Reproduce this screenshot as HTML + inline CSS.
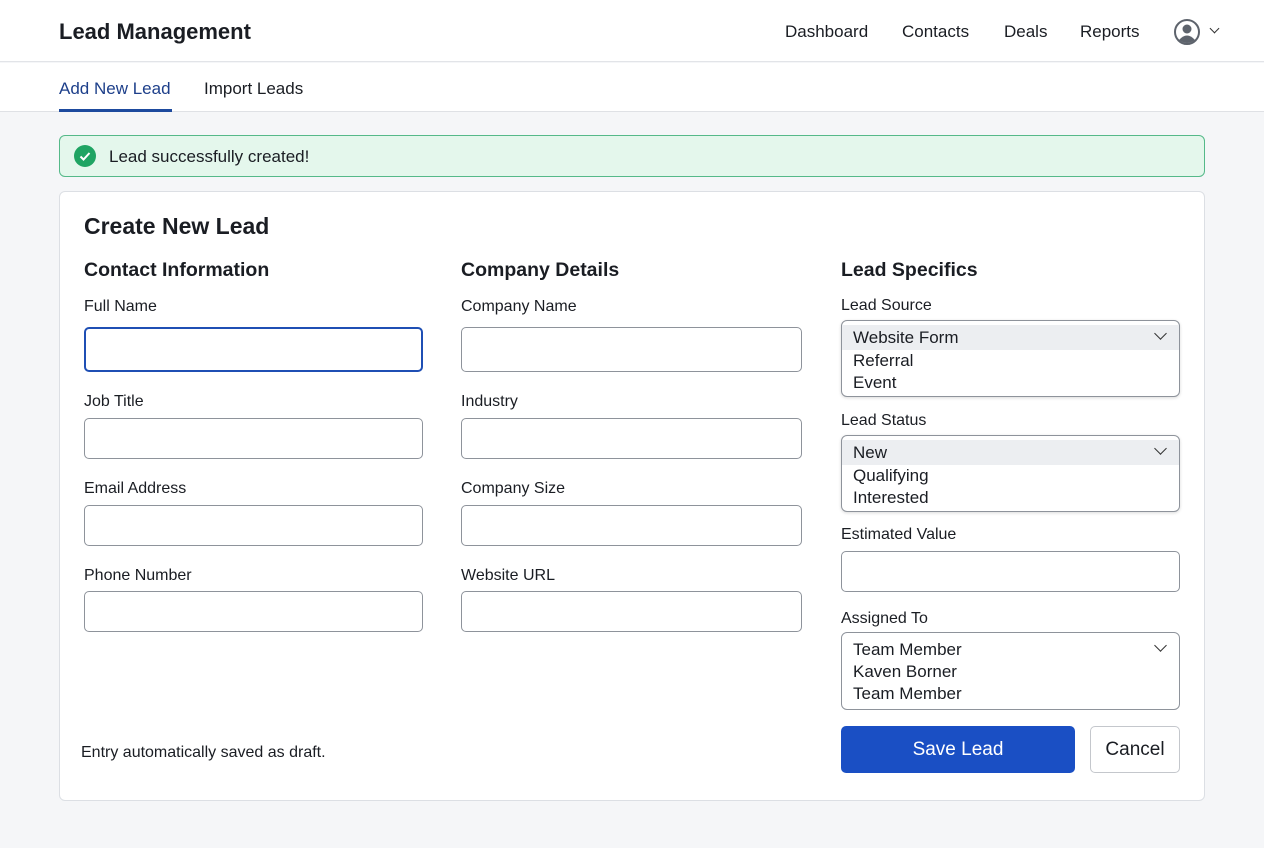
<!DOCTYPE html>
<html><head><style>
*{box-sizing:border-box;margin:0;padding:0}
body{width:1264px;height:848px;background:#f5f6f8;font-family:"Liberation Sans",sans-serif;color:#1a1d23;position:relative;overflow:hidden}
.a{position:absolute;white-space:nowrap}
.lbl{font-size:16px;line-height:20px}
.in{position:absolute;background:#fff;border:1px solid #8e939b;border-radius:5px}
.h2{font-size:19.5px;font-weight:bold;line-height:24px}
.sel{position:absolute;background:#fff;border:1px solid #8e939b;border-radius:6px;box-shadow:0 1px 3px rgba(0,0,0,.15);overflow:hidden;font-size:17px}
.sel div{height:22px;line-height:22px;padding-left:11px}
.chev{position:absolute;right:14px;top:8px;width:9px;height:9px;border-right:1.6px solid #333;border-bottom:1.6px solid #333;transform:rotate(45deg)}
</style></head><body>
<div class="a" style="left:0;top:0;width:1264px;height:62px;background:#fff;border-bottom:1px solid #e2e4e8"></div>
<div class="a" style="left:59px;top:18px;font-size:22px;font-weight:bold;line-height:28px">Lead Management</div>
<div class="a" style="left:785px;top:21px;font-size:17px;line-height:22px">Dashboard</div>
<div class="a" style="left:902px;top:21px;font-size:17px;line-height:22px">Contacts</div>
<div class="a" style="left:1004px;top:21px;font-size:17px;line-height:22px">Deals</div>
<div class="a" style="left:1080px;top:21px;font-size:17px;line-height:22px">Reports</div>
<svg class="a" style="left:1173px;top:18px" width="28" height="28" viewBox="0 0 28 28"><circle cx="14" cy="14" r="12" fill="none" stroke="#5d636c" stroke-width="2"/><circle cx="14" cy="11" r="4.5" fill="#5d636c"/><path d="M6 22 Q14 13 22 22 Q14 28 6 22Z" fill="#5d636c"/></svg>
<div class="a" style="left:1211px;top:25px;width:7px;height:7px;border-right:1.5px solid #333;border-bottom:1.5px solid #333;transform:rotate(45deg)"></div>
<div class="a" style="left:0;top:63px;width:1264px;height:49px;background:#fff;border-bottom:1px solid #dfe1e5"></div>
<div class="a" style="left:59px;top:78px;font-size:17px;line-height:22px;color:#1d3f8a">Add New Lead</div>
<div class="a" style="left:59px;top:109px;width:113px;height:3px;background:#1d4a9e"></div>
<div class="a" style="left:204px;top:78px;font-size:17px;line-height:22px">Import Leads</div>
<div class="a" style="left:59px;top:135px;width:1146px;height:42px;background:#e4f7ec;border:1px solid #55b989;border-radius:6px"></div>
<svg class="a" style="left:74px;top:145px" width="22" height="22"><circle cx="11" cy="11" r="11" fill="#1fa463"/><path d="M6.5 11.5l3 3 6-6.5" stroke="#fff" stroke-width="2" fill="none"/></svg>
<div class="a" style="left:109px;top:146px;font-size:17px;line-height:21px">Lead successfully created!</div>
<div class="a" style="left:59px;top:191px;width:1146px;height:610px;background:#fff;border:1px solid #dcdfe4;border-radius:6px"></div>
<div class="a" style="left:84px;top:211px;font-size:23px;font-weight:bold;line-height:30px">Create New Lead</div>
<div class="a h2" style="left:84px;top:258px">Contact Information</div>
<div class="a h2" style="left:461px;top:258px">Company Details</div>
<div class="a h2" style="left:841px;top:258px">Lead Specifics</div>

<div class="a lbl" style="left:84px;top:297px">Full Name</div>
<div class="in" style="left:84px;top:327px;width:339px;height:45px;border:2px solid #1f4fb4"></div>
<div class="a lbl" style="left:84px;top:392px">Job Title</div>
<div class="in" style="left:84px;top:418px;width:339px;height:41px"></div>
<div class="a lbl" style="left:84px;top:479px">Email Address</div>
<div class="in" style="left:84px;top:505px;width:339px;height:41px"></div>
<div class="a lbl" style="left:84px;top:566px">Phone Number</div>
<div class="in" style="left:84px;top:591px;width:339px;height:41px"></div>

<div class="a lbl" style="left:461px;top:297px">Company Name</div>
<div class="in" style="left:461px;top:327px;width:341px;height:45px"></div>
<div class="a lbl" style="left:461px;top:392px">Industry</div>
<div class="in" style="left:461px;top:418px;width:341px;height:41px"></div>
<div class="a lbl" style="left:461px;top:479px">Company Size</div>
<div class="in" style="left:461px;top:505px;width:341px;height:41px"></div>
<div class="a lbl" style="left:461px;top:566px">Website URL</div>
<div class="in" style="left:461px;top:591px;width:341px;height:41px"></div>

<div class="a lbl" style="left:841px;top:296px">Lead Source</div>
<div class="sel" style="left:841px;top:320px;width:339px;height:77px"><div style="background:#eceef1;margin-top:4px;height:25px;line-height:25px">Website Form</div><div>Referral</div><div>Event</div><span class="chev"></span></div>
<div class="a lbl" style="left:841px;top:411px">Lead Status</div>
<div class="sel" style="left:841px;top:435px;width:339px;height:77px"><div style="background:#eceef1;margin-top:4px;height:25px;line-height:25px">New</div><div>Qualifying</div><div>Interested</div><span class="chev"></span></div>
<div class="a lbl" style="left:841px;top:525px">Estimated Value</div>
<div class="in" style="left:841px;top:551px;width:339px;height:41px"></div>
<div class="a lbl" style="left:841px;top:609px">Assigned To</div>
<div class="sel" style="left:841px;top:632px;width:339px;height:78px;box-shadow:none"><div style="margin-top:6px">Team Member</div><div>Kaven Borner</div><div>Team Member</div><span class="chev"></span></div>
<div class="a" style="left:841px;top:726px;width:234px;height:47px;background:#1a4fc4;border-radius:5px;color:#fff;font-size:19px;line-height:47px;text-align:center">Save Lead</div>
<div class="a" style="left:1090px;top:726px;width:90px;height:47px;background:#fff;border:1px solid #c4c7cc;border-radius:5px;font-size:19px;line-height:45px;text-align:center">Cancel</div>
<div class="a lbl" style="left:81px;top:743px">Entry automatically saved as draft.</div>
</body></html>
